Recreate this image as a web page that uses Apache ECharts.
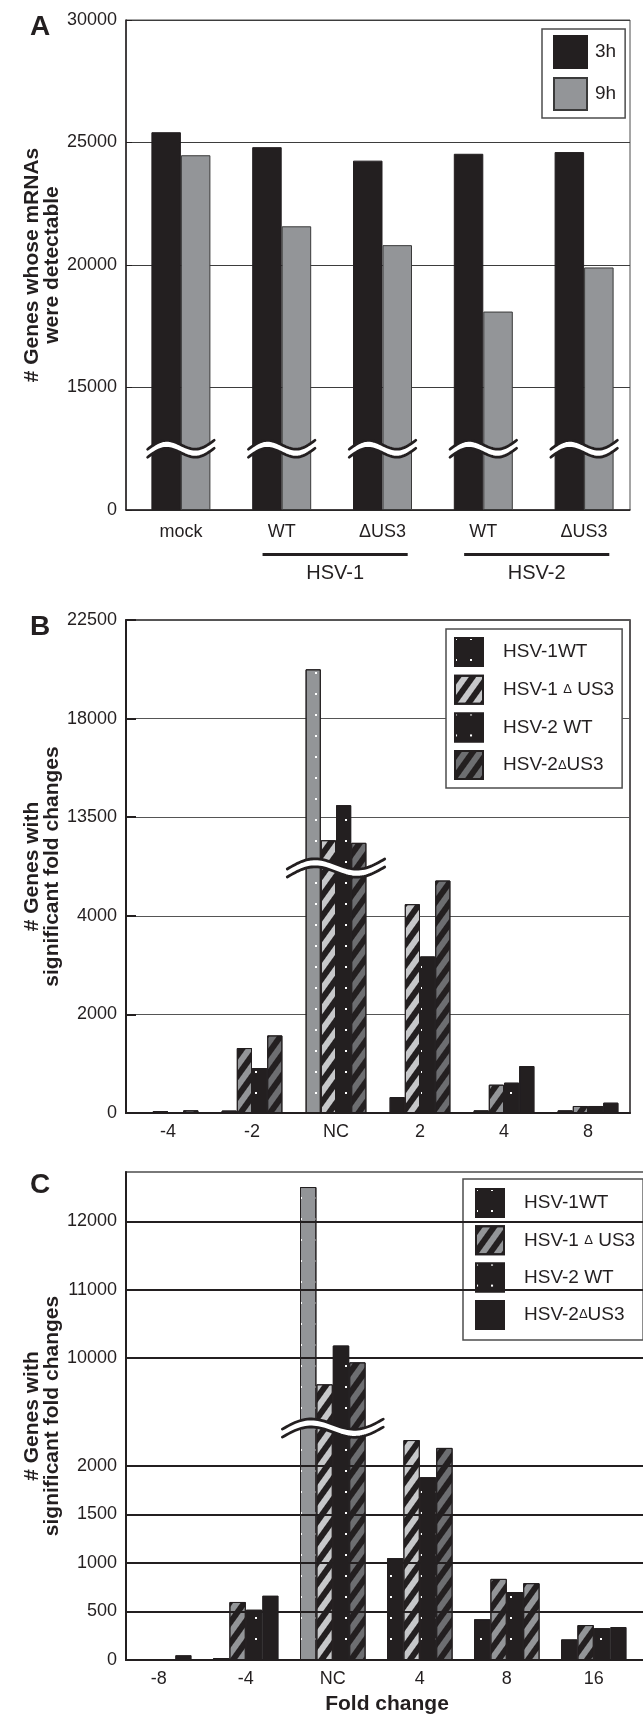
<!DOCTYPE html>
<html>
<head>
<meta charset="utf-8">
<script src="https://cdn.jsdelivr.net/npm/echarts@6.0.0/dist/echarts.min.js"></script>
<style>
html, body { margin: 0; padding: 0; background: #ffffff; }
#chart { width: 643px; height: 1716px; }
</style>
</head>
<body>
<div id="chart"></div>
<script>
// ---------- Panel A ----------
const aCategories = ['mock', 'WT', 'ΔUS3', 'WT', 'ΔUS3'];
const aGroupLabels = ['HSV-1', 'HSV-2'];
const aSeriesNames = ['3h', '9h'];
const a3h = [25420, 24810, 24260, 24540, 24610];
const a9h = [24480, 21580, 20810, 18100, 19900];
const aTickLabels = ['0', '15000', '20000', '25000', '30000'];

// ---------- Panel B ----------
const bCategories = ['-4', '-2', 'NC', '2', '4', '8'];
const bSeriesNames = ['HSV-1WT', 'HSV-1 Δ US3', 'HSV-2 WT', 'HSV-2ΔUS3'];
const bHsv1Wt   = [0, 50, 20250, 324, 54, 54];
const bHsv1dUs3 = [40, 1318, 12450, 4236, 574, 142];
const bHsv2Wt   = [0, 912, 14050, 3176, 615, 142];
const bHsv2dUs3 = [55, 1574, 12330, 4716, 953, 209];
const bTickLabels = ['0', '2000', '4000', '13500', '18000', '22500'];

// ---------- Panel C ----------
const cCategories = ['-8', '-4', 'NC', '4', '8', '16'];
const cSeriesNames = ['HSV-1WT ', 'HSV-1 Δ US3 ', 'HSV-2 WT ', 'HSV-2ΔUS3 '];
const cHsv1Wt   = [0, 20, 12510, 1050, 420, 212];
const cHsv1dUs3 = [0, 598, 9610, 2267, 836, 360];
const cHsv2Wt   = [0, 518, 10180, 1884, 700, 328];
const cHsv2dUs3 = [50, 664, 9933, 2186, 792, 340];
const cTickValues = [0, 500, 1000, 1500, 2000, 10000, 11000, 12000];

// ---------- broken-axis scales (value -> axis units) ----------
const posA = v => v >= 15000 ? 1 + (v - 15000) / 5000 : v / 15000;
const posB = v => v > 8000 ? v / 4500 : v / 2000;
const posC = v => v > 5000 ? 6.23 + (v - 10000) / 713 : v / 500;
const A_BREAK = 0.5, B_BREAK = 2.485, C_BREAK = 4.78, C_MAX = 10.06;

// ---------- styles ----------
const FONT = '"Liberation Sans", Arial, Helvetica, sans-serif';
const INK = '#231f20', GRAY = '#939598', LIGHT = '#c7c8ca', DARK = '#6d6e71';
const dots = { symbol: 'rect', symbolSize: 1, dashArrayX: [2, 13], dashArrayY: [2, 19], color: '#ffffff' };
const stripes = { symbol: 'rect', symbolSize: 1, dashArrayX: [1, 0], dashArrayY: [6, 6], rotation: -0.95, color: INK };
const plain = { symbol: 'rect', symbolSize: 1, dashArrayX: [1, 0], dashArrayY: [1, 0], color: 'rgba(0,0,0,0)' };

function withStyles(values, pos, overrides) {
  return values.map((v, i) => {
    const item = { value: pos(v) };
    const st = Object.assign({}, (overrides && overrides[i]) || {});
    if (v <= 0) st.borderWidth = 0;
    if (Object.keys(st).length) item.itemStyle = st;
    return item;
  });
}

function breakRender(widthFrac, band, amp, tilt) {
  return function (params, api) {
    const c = api.coord([api.value(0), api.value(1)]);
    const bw = api.size([1, 0])[0];
    const W = bw * widthFrac;
    const N = 48, top = [], bot = [];
    for (let i = 0; i <= N; i++) {
      const t = i / N;
      const x = c[0] - W / 2 + t * W;
      const y = c[1] - amp * Math.sin(2 * Math.PI * t) - tilt * (t - 0.5);
      top.push([x, y - band / 2]);
      bot.push([x, y + band / 2]);
    }
    return {
      type: 'group',
      children: [
        { type: 'polygon', shape: { points: top.concat(bot.slice().reverse()) }, style: { fill: '#ffffff' } },
        { type: 'polyline', shape: { points: top }, style: { stroke: INK, lineWidth: 2.8, fill: null, lineCap: 'round' } },
        { type: 'polyline', shape: { points: bot }, style: { stroke: INK, lineWidth: 2.8, fill: null, lineCap: 'round' } }
      ]
    };
  };
}

const tickText = { fontSize: 18, color: INK, fontFamily: FONT };
const titleText = { fontSize: 21, fontWeight: 'bold', lineHeight: 20, color: INK, fontFamily: FONT };
const legendText = { fontSize: 19, color: INK, fontFamily: FONT, padding: [0, 0, 0, 15], rich: { d: { fontSize: 13, color: INK, fontFamily: FONT } } };
const deltaFmt = n => n.trim().replace('Δ', '{d|Δ}');
const Y_NAME_GAP = 64;

const barB = (name, values, style, overrides) => ({
  name, type: 'bar', xAxisIndex: 2, yAxisIndex: 2, barWidth: 15.2, barGap: '0%',
  itemStyle: Object.assign({ borderColor: INK, borderWidth: 1 }, style),
  data: withStyles(values, posB, overrides)
});
const barC = (name, values, style, overrides) => ({
  name, type: 'bar', xAxisIndex: 4, yAxisIndex: 4, barWidth: 16.4, barGap: '0%',
  itemStyle: Object.assign({ borderColor: INK, borderWidth: 1 }, style),
  data: withStyles(values, posC, overrides)
});

const option = {
  animation: false,
  backgroundColor: '#ffffff',
  textStyle: { fontFamily: FONT },
  grid: [
    { left: 126, top: 20, width: 504, height: 490, show: true, borderColor: '#4d4d4d', borderWidth: 1, outerBoundsMode: 'none' },
    { left: 130.5, top: 20, width: 504, height: 490, outerBoundsMode: 'none' },
    { left: 126, top: 620, width: 504, height: 493, show: true, borderColor: INK, borderWidth: 1.5, outerBoundsMode: 'none' },
    { left: 126, top: 1172, width: 522, height: 488, show: true, borderColor: '#4d4d4d', borderWidth: 1.5, outerBoundsMode: 'none' },
    { left: 115.3, top: 1172, width: 522, height: 488, outerBoundsMode: 'none' }
  ],
  xAxis: [
    { gridIndex: 0, type: 'category', data: aCategories, axisLine: { lineStyle: { color: INK, width: 1.5 } },
      axisTick: { inside: true, length: 7, lineStyle: { color: INK } }, axisLabel: { show: false }, splitLine: { show: false } },
    { gridIndex: 1, type: 'category', data: aCategories, axisLine: { show: false }, axisTick: { show: false },
      axisLabel: Object.assign({ margin: 13, interval: 0 }, tickText) },
    { gridIndex: 2, type: 'category', data: bCategories, axisLine: { lineStyle: { color: INK, width: 2 } },
      axisTick: { show: false }, axisLabel: Object.assign({ margin: 10, interval: 0 }, tickText) },
    { gridIndex: 3, type: 'category', data: cCategories, axisLine: { lineStyle: { color: INK, width: 2 } },
      axisTick: { inside: true, length: 9, lineStyle: { color: INK, width: 1.5 } }, axisLabel: { show: false },
      name: 'Fold change', nameLocation: 'middle', nameGap: 34, nameMoveOverlap: false, nameTextStyle: titleText },
    { gridIndex: 4, type: 'category', data: cCategories, axisLine: { show: false }, axisTick: { show: false },
      axisLabel: Object.assign({ margin: 10, interval: 0 }, tickText) }
  ],
  yAxis: [
    { gridIndex: 0, type: 'value', min: 0, max: 4, interval: 1,
      axisLine: { show: true, lineStyle: { color: INK, width: 1.5 } },
      axisTick: { show: true, inside: true, length: 6, lineStyle: { color: INK } },
      axisLabel: Object.assign({ margin: 9, formatter: v => aTickLabels[Math.round(v)] }, tickText),
      splitLine: { lineStyle: { color: '#3d3d3d', width: 1 } },
      name: '# Genes whose mRNAs\nwere detectable', nameLocation: 'middle', nameRotate: 90, nameGap: Y_NAME_GAP,
      nameMoveOverlap: false, nameTextStyle: titleText },
    { gridIndex: 1, type: 'value', min: 0, max: 4, show: false },
    { gridIndex: 2, type: 'value', min: 0, max: 5, interval: 1,
      axisLine: { show: true, lineStyle: { color: INK, width: 2 } },
      axisTick: { show: true, inside: true, length: 10, lineStyle: { color: INK, width: 2 } },
      axisLabel: Object.assign({ margin: 9, formatter: v => bTickLabels[Math.round(v)] }, tickText),
      splitLine: { lineStyle: { color: '#555555', width: 1 } },
      name: '# Genes with\nsignificant fold changes', nameLocation: 'middle', nameRotate: 90, nameGap: Y_NAME_GAP,
      nameMoveOverlap: false, nameTextStyle: titleText },
    { gridIndex: 3, type: 'value', min: 0, max: C_MAX,
      axisLine: { show: true, lineStyle: { color: INK, width: 2 } }, axisTick: { show: false },
      axisLabel: { show: false }, splitLine: { show: false },
      name: '# Genes with\nsignificant fold changes', nameLocation: 'middle', nameRotate: 90, nameGap: Y_NAME_GAP,
      nameMoveOverlap: false, nameTextStyle: titleText },
    { gridIndex: 4, type: 'value', min: 0, max: C_MAX, show: false }
  ],
  legend: [
    { data: aSeriesNames, orient: 'vertical', left: 542, top: 29, itemWidth: 33, itemHeight: 32, itemGap: 8,
      padding: [6, 9, 7, 11], borderColor: '#4d4d4d', borderWidth: 1.5, backgroundColor: '#ffffff', icon: 'rect',
      selectedMode: false, textStyle: Object.assign({}, legendText, { padding: [0, 0, 0, 3] }) },
    { data: bSeriesNames, orient: 'vertical', left: 446, top: 629, itemWidth: 28, itemHeight: 28, itemGap: 7.7,
      padding: [8, 8, 8, 8], borderColor: '#4d4d4d', borderWidth: 1.5, backgroundColor: '#ffffff', icon: 'rect',
      selectedMode: false, formatter: deltaFmt, textStyle: legendText },
    { data: cSeriesNames, orient: 'vertical', left: 463, top: 1179, itemWidth: 28, itemHeight: 28, itemGap: 7.3,
      padding: [9, 8, 10, 12], borderColor: '#4d4d4d', borderWidth: 1.5, backgroundColor: '#ffffff', icon: 'rect',
      selectedMode: false, formatter: deltaFmt, textStyle: legendText }
  ],
  series: [
    // Panel A
    { name: aSeriesNames[0], type: 'bar', xAxisIndex: 1, yAxisIndex: 1, barWidth: 29.5, barGap: '0%',
      itemStyle: { color: INK, borderColor: INK, borderWidth: 1 }, data: a3h.map(posA) },
    { name: aSeriesNames[1], type: 'bar', xAxisIndex: 1, yAxisIndex: 1, barWidth: 29.5, barGap: '0%',
      itemStyle: { color: GRAY, borderColor: '#3a3a3a', borderWidth: 1 }, data: a9h.map(posA) },
    { type: 'custom', xAxisIndex: 1, yAxisIndex: 1, z: 10, silent: true, renderItem: breakRender(0.66, 8, 6.5, 9),
      data: aCategories.map((c, i) => [i, A_BREAK]) },
    // Panel B
    barB(bSeriesNames[0], bHsv1Wt, { color: INK, decal: dots }, { 2: { color: GRAY } }),
    barB(bSeriesNames[1], bHsv1dUs3, { color: LIGHT, decal: stripes }, { 0: { color: GRAY }, 1: { color: GRAY }, 4: { color: GRAY }, 5: { color: GRAY } }),
    barB(bSeriesNames[2], bHsv2Wt, { color: INK, decal: dots }),
    barB(bSeriesNames[3], bHsv2dUs3, { color: DARK, decal: stripes }, { 4: { color: INK, decal: plain }, 5: { color: INK, decal: plain } }),
    { type: 'custom', xAxisIndex: 2, yAxisIndex: 2, z: 10, silent: true, renderItem: breakRender(1.16, 8, 7.5, 10),
      data: [[2, B_BREAK]] },
    // Panel C gridlines + tick labels (irregular broken scale)
    { type: 'line', xAxisIndex: 3, yAxisIndex: 3, data: [], silent: true, z: 1,
      markLine: { silent: true, symbol: ['none', 'none'], animation: false,
        lineStyle: { color: INK, width: 2, type: 'solid' },
        label: { position: 'start', distance: 9, fontSize: 18, color: INK, fontFamily: FONT },
        data: cTickValues.map(v => ({ yAxis: posC(v), label: { formatter: String(v) } })) } },
    barC(cSeriesNames[0], cHsv1Wt, { color: INK, decal: dots }, { 2: { color: GRAY } }),
    barC(cSeriesNames[1], cHsv1dUs3, { color: GRAY, decal: stripes }, { 2: { color: LIGHT }, 3: { color: LIGHT } }),
    barC(cSeriesNames[2], cHsv2Wt, { color: INK, decal: dots }),
    barC(cSeriesNames[3], cHsv2dUs3, { color: INK }, { 2: { color: DARK, decal: stripes }, 3: { color: DARK, decal: stripes }, 4: { color: GRAY, decal: stripes } }),
    { type: 'custom', xAxisIndex: 4, yAxisIndex: 4, z: 10, silent: true, renderItem: breakRender(1.16, 8, 7.5, 10),
      data: [[2, C_BREAK]] }
  ]
};

const chart = echarts.init(document.getElementById('chart'), null, { renderer: 'canvas' });
chart.setOption(option);

// group underlines for panel A and panel letters
const xA = i => chart.convertToPixel({ xAxisIndex: 1 }, i);
const bwA = xA(1) - xA(0);
const yA0 = chart.convertToPixel({ yAxisIndex: 1 }, 0);
const spans = [[1, 2], [3, 4]];
const graphics = [];
spans.forEach((s, k) => {
  const x1 = xA(s[0]) - 0.19 * bwA, x2 = xA(s[1]) + 0.25 * bwA;
  graphics.push({ type: 'line', shape: { x1, y1: yA0 + 44.5, x2, y2: yA0 + 44.5 }, style: { stroke: INK, lineWidth: 3 } });
  graphics.push({ type: 'text', x: (x1 + x2) / 2, y: yA0 + 63, style: { text: aGroupLabels[k], fill: INK, font: '20px ' + FONT, textAlign: 'center', textVerticalAlign: 'middle' } });
});
[['A', 27], ['B', 627], ['C', 1185]].forEach(p => {
  graphics.push({ type: 'text', x: 40, y: p[1], style: { text: p[0], fill: INK, font: 'bold 28px ' + FONT, textAlign: 'center', textVerticalAlign: 'middle' } });
});
chart.setOption({ graphic: graphics });
</script>
</body>
</html>
